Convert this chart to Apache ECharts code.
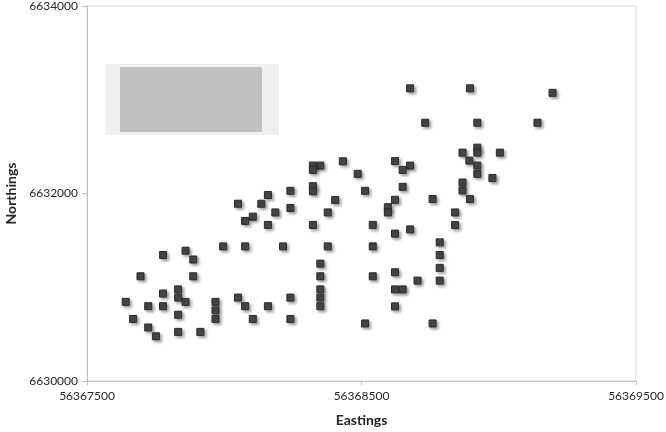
<!DOCTYPE html>
<html>
<head>
<meta charset="utf-8">
<script src="https://cdn.jsdelivr.net/npm/echarts@6/dist/echarts.min.js"></script>
<style>html,body{margin:0;padding:0;background:#fff}#c{width:666px;height:432px}</style>
</head>
<body>
<div id="c"></div>
<script>
var eastings = [
56368677,56368895,56369196,56368732,56368922,56369141,56368868,56368922,56368922,56369004,
56368893,56368922,56368922,56368977,56368868,56368868,56368895,56368759,56368622,56368677,
56368650,56368486,56368650,56368513,56368622,56368596,56368596,56368841,56368541,56368841,
56368622,56368677,56368541,56368785,56368785,56368785,56368785,56368704,56368622,56368541,
56368622,56368650,56368622,56368513,56368759,56368323,56368350,56368323,56368432,56368159,
56368135,56368050,56368241,56368323,56368323,56368404,56368186,56368241,56368377,56368104,
56368076,56368159,56368323,56367996,56368076,56368214,56368377,56367777,56367859,56367887,
56367695,56367887,56368350,56368350,56368350,56368350,56368350,56367777,56367832,56367832,
56367859,56367641,56367723,56367777,56367968,56367968,56367968,56368050,56368076,56368159,
56368241,56367668,56367832,56368104,56368241,56367723,56367751,56367832,56367913
];
var northings = [
6633122,6633122,6633074,6632755,6632755,6632755,6632436,6632489,6632436,6632436,
6632351,6632298,6632210,6632165,6632117,6632032,6631941,6631941,6632346,6632298,
6632252,6632210,6632071,6632029,6631933,6631854,6631798,6631798,6631665,6631663,
6631572,6631617,6631436,6631479,6631344,6631207,6631071,6631071,6631160,6631117,
6630977,6630977,6630796,6630614,6630614,6632298,6632298,6632252,6632344,6631984,
6631891,6631891,6632029,6632078,6632024,6631931,6631798,6631846,6631798,6631753,
6631707,6631665,6631665,6631436,6631436,6631436,6631436,6631344,6631390,6631296,
6631117,6631117,6631252,6631117,6630977,6630890,6630798,6630933,6630977,6630890,
6630844,6630844,6630798,6630798,6630844,6630753,6630662,6630890,6630798,6630798,
6630890,6630662,6630707,6630662,6630662,6630571,6630477,6630524,6630524
];
var xTicks = [56367500, 56368500, 56369500];
var yTicks = [6630000, 6632000, 6634000];

var pts = eastings.map(function (e, i) { return [e, northings[i]]; });
var font = 'Lato, "Open Sans", sans-serif';
var plain = function (v) { return String(v); };
var chart = echarts.init(document.getElementById('c'), null, {renderer: 'canvas'});
chart.setOption({
  animation: false,
  grid: {left: 87, right: 30, top: 6, bottom: 51, outerBoundsMode: 'none', containLabel: false,
    show: true, borderColor: '#d9d9d9', borderWidth: 1, backgroundColor: '#fff'},
  xAxis: {
    type: 'value', min: xTicks[0], max: xTicks[2], interval: xTicks[1] - xTicks[0],
    name: 'Eastings', nameLocation: 'middle', nameGap: 32,
    nameTextStyle: {fontFamily: font, fontWeight: 'bold', fontSize: 14, color: '#262626'},
    axisLine: {lineStyle: {color: '#bfbfbf', width: 1}},
    axisTick: {show: true, length: 4, lineStyle: {color: '#bfbfbf'}},
    axisLabel: {fontFamily: font, fontSize: 12, color: '#262626', margin: 9, formatter: plain},
    splitLine: {show: false}
  },
  yAxis: {
    type: 'value', min: yTicks[0], max: yTicks[2], interval: yTicks[1] - yTicks[0],
    name: 'Northings', nameLocation: 'middle', nameGap: 67, nameRotate: 90,
    nameTextStyle: {fontFamily: font, fontWeight: 'bold', fontSize: 14, color: '#262626'},
    axisLine: {show: true, lineStyle: {color: '#bfbfbf', width: 1}},
    axisTick: {show: true, length: 5, lineStyle: {color: '#bfbfbf'}},
    axisLabel: {fontFamily: font, fontSize: 12, color: '#262626', margin: 9, formatter: plain},
    splitLine: {show: false}
  },
  graphic: [
    {type: 'rect', shape: {x: 106, y: 64, width: 173, height: 71}, style: {fill: '#efefef'}, z: 10},
    {type: 'rect', shape: {x: 120, y: 67, width: 142, height: 65}, style: {fill: '#c0c0c0'}, z: 11}
  ],
  series: [{
    type: 'scatter', data: pts, symbol: 'rect', symbolSize: 7,
    itemStyle: {color: '#4a4a4a', borderColor: '#2a2a2a', borderWidth: 1, opacity: 1,
      shadowBlur: 3, shadowOffsetX: 2, shadowOffsetY: 2, shadowColor: 'rgba(0,0,0,0.35)'}
  }]
});
</script>
</body>
</html>
